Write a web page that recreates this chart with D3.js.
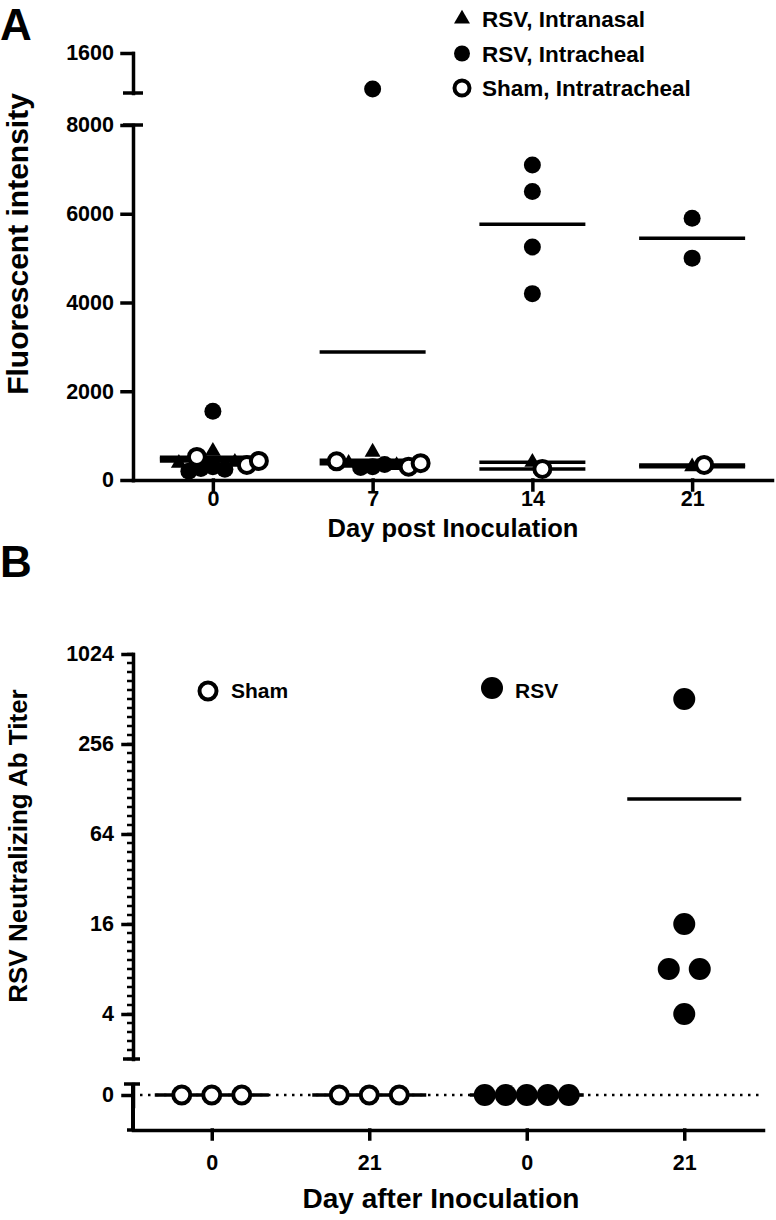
<!DOCTYPE html>
<html><head><meta charset="utf-8">
<script src="https://cdn.jsdelivr.net/npm/d3@7"></script>
<style>
body{margin:0;background:#fff}
text{font-family:"Liberation Sans",Arial,sans-serif;font-weight:bold;fill:#000}
</style>
</head><body>
<svg id="c" width="776" height="1220" xmlns="http://www.w3.org/2000/svg"></svg>
<script>
// ---------------- Panel A data ----------------
const daysA = ["0", "7", "14", "21"];
const seriesA = ["RSV, Intranasal", "RSV, Intracheal", "Sham, Intratracheal"];
const intranasalA = [[650, 400, 380], [630, 380, 330], [400], [300]];
const intratrachealA = [[1550, 300, 260, 240, 200], [10600, 300, 280, 350], [7100, 6500, 5250, 4200], [5900, 5000]];
const shamA = [[340, 520, 430], [300, 420, 380], [250], [340]];
const lowerTicksA = [0, 2000, 4000, 6000, 8000];
const upperTicksA = [16000];
const upperTickLabelsA = ["1600"];
const titleAx = "Day post Inoculation";
const titleAy = "Fluorescent intensity";

// ---------------- Panel B data ----------------
const daysB = ["0", "21", "0", "21"];
const groupsB = ["Sham", "Sham", "RSV", "RSV"];
const valuesB = [[0, 0, 0], [0, 0, 0], [0, 0, 0, 0, 0], [512, 16, 8, 8, 4]];
const ticksB = [4, 16, 64, 256, 1024];
const titleBx = "Day after Inoculation";
const titleBy = "RSV Neutralizing Ab Titer";

const FONT = "'Liberation Sans', Arial, sans-serif";
const svg = d3.select("#c");
const AX = 133;

function styleAxis(g, fs) {
  g.selectAll("path,line").attr("stroke", "#000").attr("stroke-width", 3.5).attr("stroke-linecap", "square");
  g.selectAll("text").attr("font-size", fs).attr("font-weight", "bold").attr("fill", "#000").attr("font-family", FONT);
}

// simple beeswarm: offset each point horizontally until it no longer collides
function swarm(points, minDist, step, centerTies) {
  const placed = [];
  points.forEach(p => {
    const pref = p.pref || -1;
    let k = 0, off = 0;
    while (true) {
      const cand = k === 0 ? [0] : [pref * k * step, -pref * k * step];
      let ok = null;
      for (const c of cand) {
        if (placed.every(q => (q.x0 + q.off - (p.x0 + c)) ** 2 + (q.y - p.y) ** 2 >= minDist * minDist)) { ok = c; break; }
      }
      if (ok !== null) { off = ok; break; }
      k++;
    }
    p.off = off;
    placed.push(p);
  });
  if (centerTies) {
    d3.group(points, p => p.y).forEach(row => {
      const m = d3.mean(row, p => p.off);
      row.forEach(p => { p.off -= m; });
    });
  }
  return points;
}

// ================= PANEL A =================
const xA = d3.scalePoint().domain(daysA).range([AX, 772]).padding(0.5);
const yLow = d3.scaleLinear().domain([0, 8000]).range([480, 125]);
const yUp = d3.scaleLinear().domain([10000, 16000]).range([93, 53]);
const yA = v => v > 8000 ? yUp(v) : yLow(v);

const gA = svg.append("g");
gA.append("text").attr("x", 0).attr("y", 40).attr("font-size", 44).text("A");

const axLow = gA.append("g").attr("transform", `translate(${AX},0)`)
  .call(d3.axisLeft(yLow).tickValues(lowerTicksA).tickFormat(d3.format("d")).tickSize(11).tickSizeOuter(0).tickPadding(8));
styleAxis(axLow, 21.5);
const axUp = gA.append("g").attr("transform", `translate(${AX},0)`)
  .call(d3.axisLeft(yUp).tickValues(upperTicksA).tickFormat((d, i) => upperTickLabelsA[i]).tickSize(11).tickSizeOuter(0).tickPadding(8));
styleAxis(axUp, 21.5);
[yUp.range()[0], yLow.range()[1]].forEach(yy => {
  gA.append("line").attr("x1", AX - 10).attr("x2", AX + 10).attr("y1", yy).attr("y2", yy)
    .attr("stroke", "#000").attr("stroke-width", 3.5);
});
const axXA = gA.append("g").attr("transform", `translate(0,480)`)
  .call(d3.axisBottom(xA).tickSize(10).tickSizeOuter(0).tickPadding(1));
styleAxis(axXA, 21.5);

gA.append("text").attr("x", 453).attr("y", 537).attr("text-anchor", "middle").attr("font-size", 25.5).text(titleAx);
gA.append("text").attr("transform", "translate(28,244) rotate(-90)").attr("text-anchor", "middle").attr("font-size", 30).text(titleAy);

const seriesDataA = [intratrachealA, intranasalA, shamA];
const seriesKeyA = [1, 0, 2];
const seriesPref = [-1, -1, 1];
const triSym = d3.symbol(d3.symbolTriangle).size(110);
daysA.forEach((day, di) => {
  const pts = [];
  seriesDataA.forEach((arr, si) => {
    arr[di].forEach(v => pts.push({ s: seriesKeyA[si], v, x0: xA(day), y: yA(v), pref: seriesPref[si] }));
  });
  swarm(pts, 12, 2, false);
  seriesDataA.forEach(arr => {
    const m = d3.mean(arr[di]);
    gA.append("line").attr("x1", xA(day) - 53).attr("x2", xA(day) + 53)
      .attr("y1", yA(m)).attr("y2", yA(m)).attr("stroke", "#000").attr("stroke-width", 3.5);
  });
  pts.forEach(p => {
    const cx = p.x0 + p.off;
    if (p.s === 0) {
      gA.append("path").attr("d", triSym).attr("transform", `translate(${cx},${p.y})`).attr("fill", "#000");
    } else if (p.s === 1) {
      gA.append("circle").attr("cx", cx).attr("cy", p.y).attr("r", 8.5).attr("fill", "#000");
    } else {
      gA.append("circle").attr("cx", cx).attr("cy", p.y).attr("r", 8).attr("fill", "#fff")
        .attr("stroke", "#000").attr("stroke-width", 4);
    }
  });
});

// legend A
const legA = gA.append("g");
seriesA.forEach((name, i) => {
  const ly = 19 + i * 34.5;
  if (i === 0) legA.append("path").attr("d", triSym).attr("transform", `translate(462,${ly})`).attr("fill", "#000");
  else if (i === 1) legA.append("circle").attr("cx", 462).attr("cy", ly).attr("r", 8).attr("fill", "#000");
  else legA.append("circle").attr("cx", 462).attr("cy", ly).attr("r", 7.5).attr("fill", "#fff").attr("stroke", "#000").attr("stroke-width", 4);
  legA.append("text").attr("x", 482).attr("y", ly + 8).attr("font-size", 22.5).text(name);
});

// ================= PANEL B =================
const gB = svg.append("g");
gB.append("text").attr("x", 0).attr("y", 577).attr("font-size", 44).text("B");

const xB = d3.scalePoint().domain(d3.range(daysB.length)).range([AX, 763]).padding(0.5);
const yB = d3.scaleLog().base(2).domain([2, 1024]).range([1059, 654]);
const yZero = d3.scalePoint().domain(["0"]).range([1084, 1106]).padding(0.5);

const axB = gB.append("g").attr("transform", `translate(${AX},0)`)
  .call(d3.axisLeft(yB).tickValues(ticksB).tickFormat(d3.format("d")).tickSize(10).tickSizeOuter(0).tickPadding(9));
styleAxis(axB, 21.5);
const minorB = d3.range(1, 10.001, 0.2).map(e => Math.pow(2, e));
gB.append("g").selectAll("line").data(minorB).join("line")
  .attr("x1", AX - 6).attr("x2", AX).attr("y1", d => yB(d)).attr("y2", d => yB(d))
  .attr("stroke", "#000").attr("stroke-width", 2.5);
gB.append("line").attr("x1", AX - 10).attr("x2", AX + 7).attr("y1", yB.range()[0]).attr("y2", yB.range()[0])
  .attr("stroke", "#000").attr("stroke-width", 3.5);

const axZ = gB.append("g").attr("transform", `translate(${AX},0)`)
  .call(d3.axisLeft(yZero).tickSize(10).tickSizeOuter(0).tickPadding(9));
styleAxis(axZ, 21.5);
gB.append("line").attr("x1", AX).attr("x2", AX).attr("y1", 1084).attr("y2", 1130).attr("stroke", "#000").attr("stroke-width", 4);
gB.append("line").attr("x1", AX - 9).attr("x2", AX + 7).attr("y1", 1084).attr("y2", 1084).attr("stroke", "#000").attr("stroke-width", 3.5);

const axXB = gB.append("g").attr("transform", `translate(0,1130)`)
  .call(d3.axisBottom(xB).tickFormat(i => daysB[i]).tickSize(9).tickSizeOuter(0).tickPadding(16));
styleAxis(axXB, 21.5);
gB.append("line").attr("x1", AX - 6).attr("x2", AX).attr("y1", 1130).attr("y2", 1130).attr("stroke", "#000").attr("stroke-width", 3.5);

gB.append("text").attr("x", 441).attr("y", 1208).attr("text-anchor", "middle").attr("font-size", 28).text(titleBx);
gB.append("text").attr("transform", "translate(27,846) rotate(-90)").attr("text-anchor", "middle").attr("font-size", 26).text(titleBy);

gB.append("line").attr("x1", 140).attr("x2", 762).attr("y1", yZero("0")).attr("y2", yZero("0"))
  .attr("stroke", "#000").attr("stroke-width", 2.5).attr("stroke-dasharray", "2.5,5.5");

const yBv = v => v <= 0 ? yZero("0") : yB(v);
valuesB.forEach((vals, gi) => {
  const open = groupsB[gi] === "Sham";
  const pts = vals.map(v => ({ v, x0: xB(gi), y: yBv(v) }));
  swarm(pts, open ? 30 : (vals.some(v => v > 0) ? 31 : 21), 1, true);
  const m = d3.mean(vals);
  gB.append("line").attr("x1", xB(gi) - 57).attr("x2", xB(gi) + 57)
    .attr("y1", yBv(m)).attr("y2", yBv(m)).attr("stroke", "#000").attr("stroke-width", 3.5);
  pts.forEach(p => {
    if (open) gB.append("circle").attr("cx", p.x0 + p.off).attr("cy", p.y).attr("r", 8.5)
      .attr("fill", "#fff").attr("stroke", "#000").attr("stroke-width", 4);
    else gB.append("circle").attr("cx", p.x0 + p.off).attr("cy", p.y).attr("r", 11).attr("fill", "#000");
  });
});

const legNamesB = ["Sham", "RSV"];
const legX = [208, 492];
legNamesB.forEach((name, i) => {
  if (name === "Sham") gB.append("circle").attr("cx", legX[i]).attr("cy", 691).attr("r", 8.5).attr("fill", "#fff").attr("stroke", "#000").attr("stroke-width", 4);
  else gB.append("circle").attr("cx", legX[i]).attr("cy", 688).attr("r", 11).attr("fill", "#000");
  gB.append("text").attr("x", legX[i] + 23).attr("y", 698).attr("font-size", 21).text(name);
});
</script>
</body></html>
